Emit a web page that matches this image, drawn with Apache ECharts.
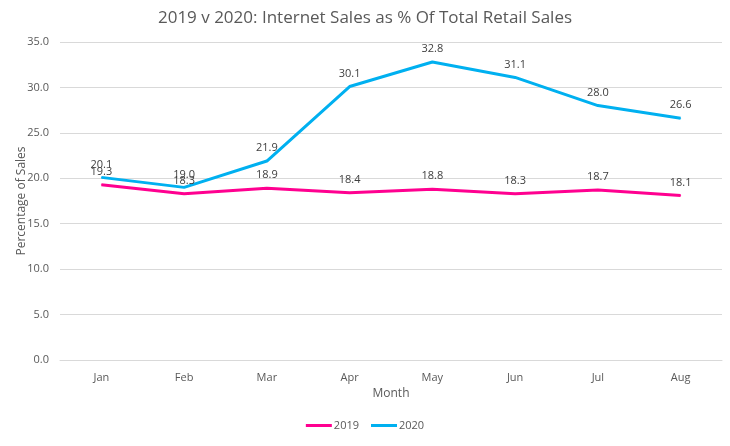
<!DOCTYPE html>
<html>
<head>
<meta charset="utf-8">
<script src="https://cdn.jsdelivr.net/npm/echarts@6/dist/echarts.min.js"></script>
<style>
  html, body { margin: 0; padding: 0; background: #fff; }
  #chart { width: 730px; height: 446px; }
</style>
</head>
<body>
<div id="chart"></div>
<script>
const months = ['Jan', 'Feb', 'Mar', 'Apr', 'May', 'Jun', 'Jul', 'Aug'];
const sales2019 = [19.3, 18.3, 18.9, 18.4, 18.8, 18.3, 18.7, 18.1];
const sales2020 = [20.1, 19.0, 21.9, 30.1, 32.8, 31.1, 28.0, 26.6];

const FONT = '"Open Sans", "Noto Sans", sans-serif';
const TXT = { fontFamily: FONT, color: '#595959', fontSize: 11 };

const chart = echarts.init(document.getElementById('chart'));

function line(name, data, color) {
  return {
    name, type: 'line', data,
    symbol: 'circle', symbolSize: 1, showSymbol: true,
    lineStyle: { color, width: 3 },
    itemStyle: { color },
    label: {
      show: true, position: 'top', distance: 7,
      formatter: p => p.value.toFixed(1),
      fontFamily: FONT, fontSize: 11, color: '#404040'
    }
  };
}

chart.setOption({
  animation: false,
  title: {
    text: '2019 v 2020: Internet Sales as % Of Total Retail Sales',
    left: 'center', top: 5,
    textStyle: { fontFamily: FONT, fontSize: 17, fontWeight: 'normal', color: '#595959' }
  },
  grid: { left: 60, right: 8, top: 42, bottom: 86, outerBoundsMode: 'none', containLabel: false },
  legend: {
    bottom: 10, left: 'center',
    itemWidth: 26, itemHeight: 3, itemGap: 12,
    icon: 'rect',
    textStyle: { ...TXT, padding: [0, 0, 0, -3] },
    data: ['2019', '2020']
  },
  xAxis: {
    type: 'category', data: months, boundaryGap: true,
    name: 'Month', nameLocation: 'middle', nameGap: 27,
    nameTextStyle: { ...TXT, fontSize: 12 },
    axisLine: { lineStyle: { color: '#d9d9d9' } },
    axisTick: { show: false },
    axisLabel: { ...TXT, margin: 12 }
  },
  yAxis: {
    type: 'value', min: 0, max: 35, interval: 5,
    name: 'Percentage of Sales', nameLocation: 'middle', nameGap: 32,
    nameMoveOverlap: false,
    nameTextStyle: { ...TXT, fontSize: 12 },
    axisLine: { show: false },
    axisTick: { show: false },
    axisLabel: { ...TXT, margin: 11, formatter: v => v.toFixed(1) },
    splitLine: { lineStyle: { color: '#d9d9d9' } }
  },
  series: [
    line('2019', sales2019, '#ff0090'),
    line('2020', sales2020, '#00b0f0')
  ]
});
</script>
</body>
</html>
